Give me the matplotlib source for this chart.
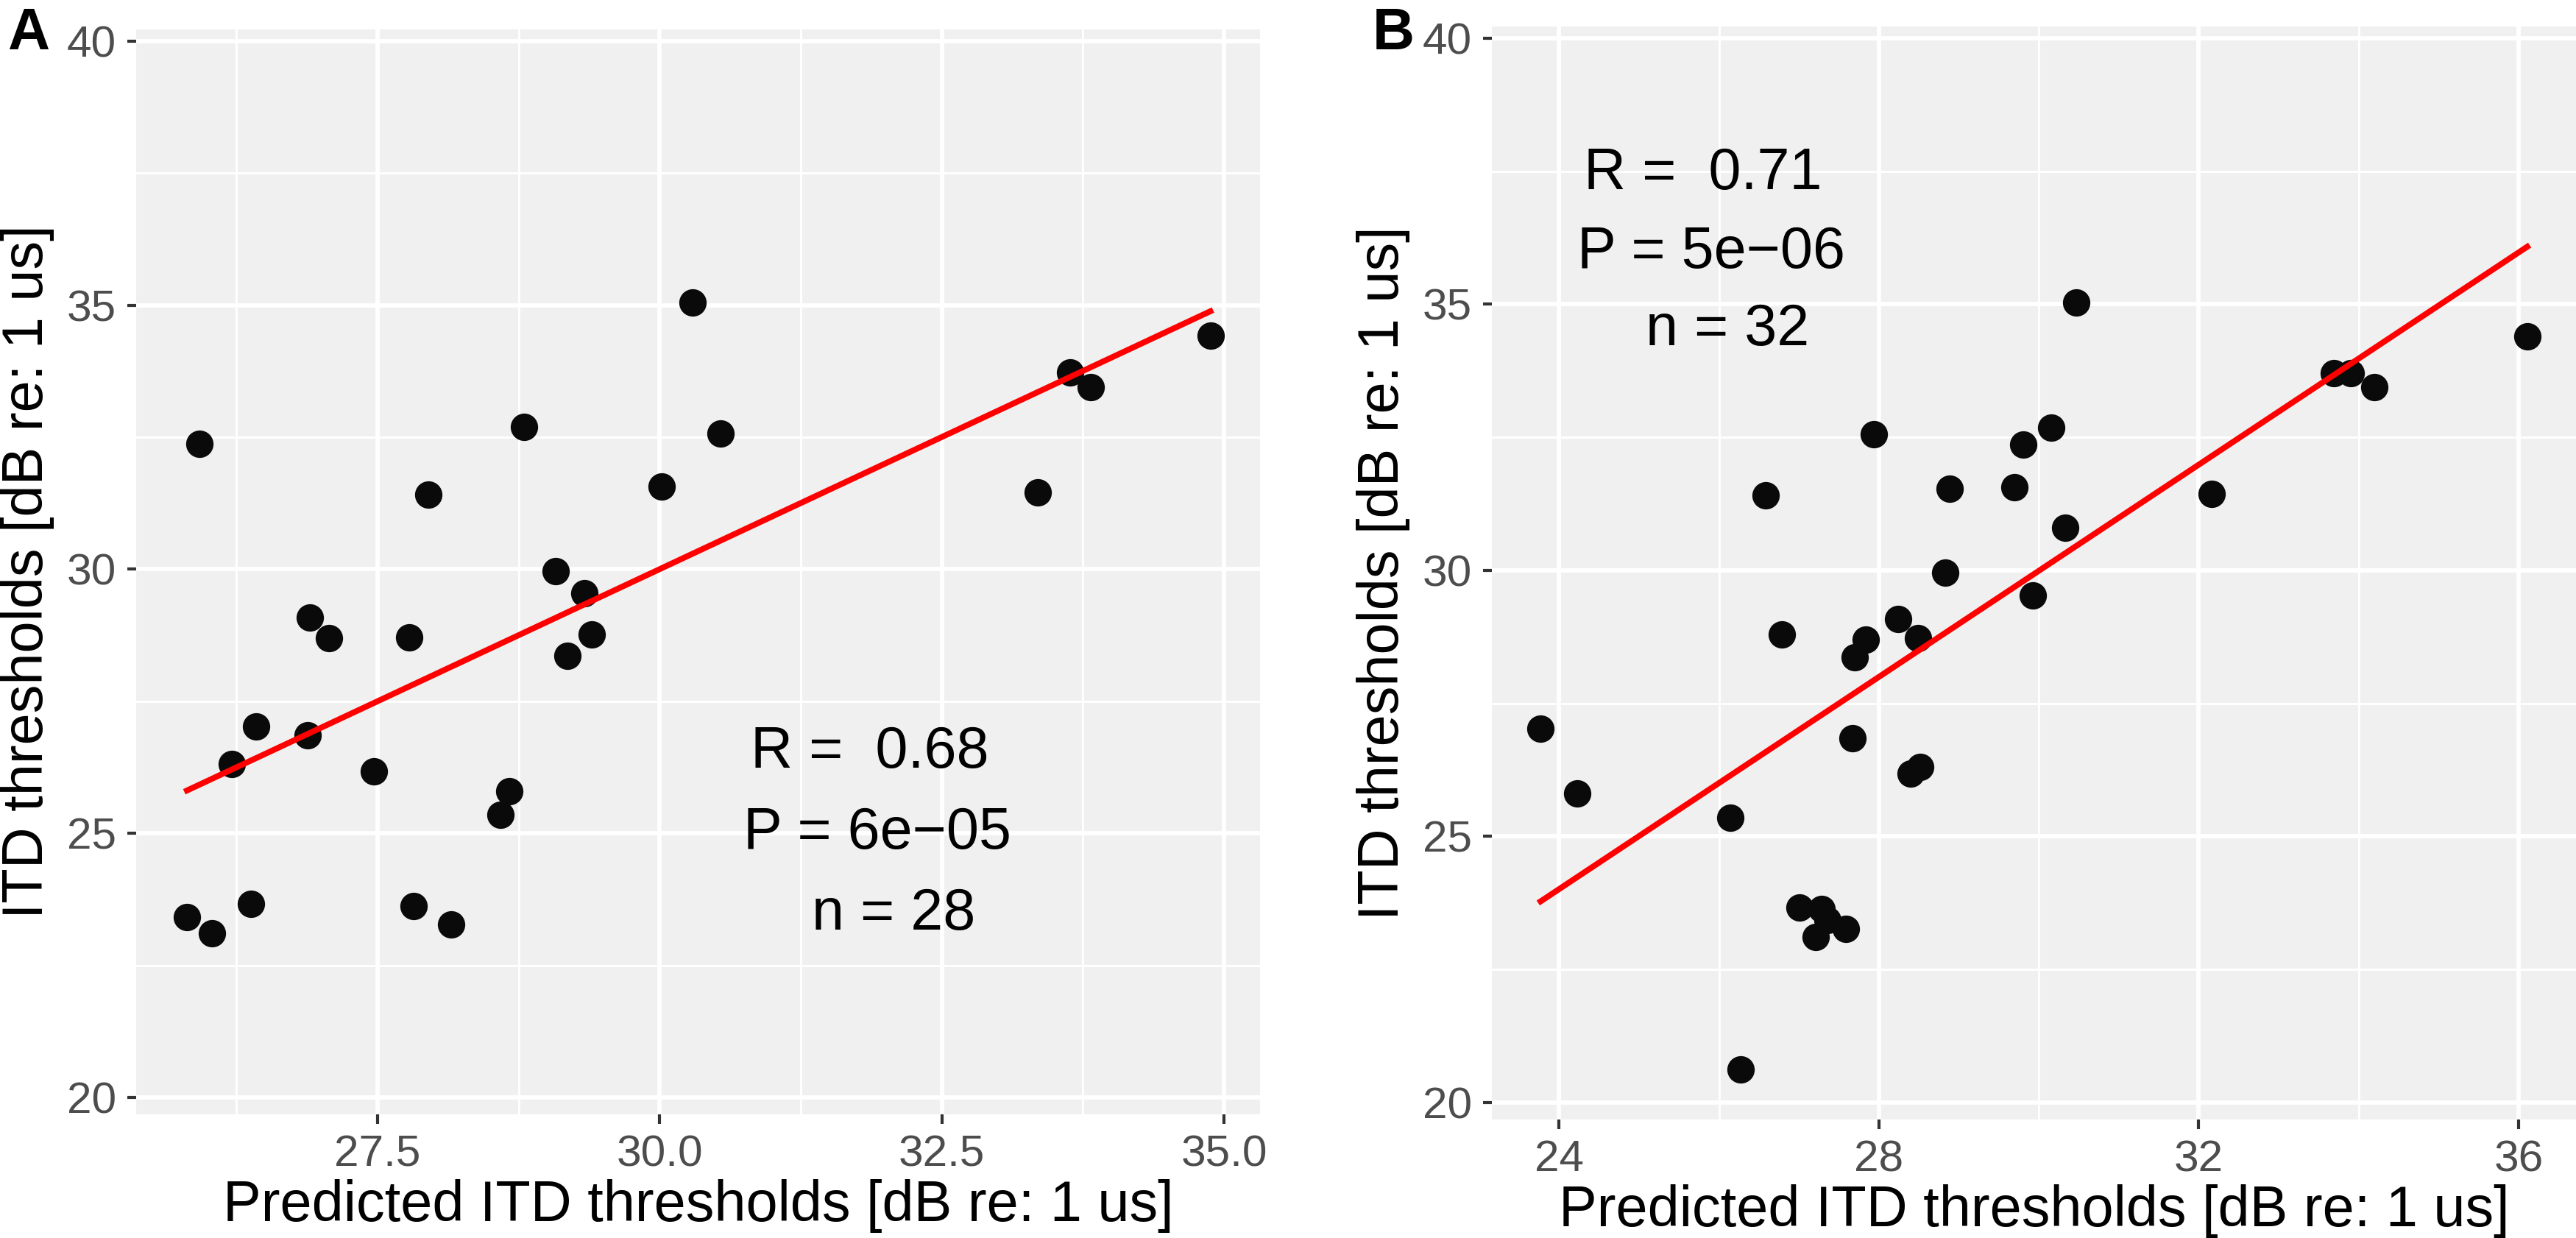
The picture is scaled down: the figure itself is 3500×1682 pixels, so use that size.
import numpy as np
import matplotlib
matplotlib.use("Agg")
import matplotlib.pyplot as plt
from matplotlib.ticker import MultipleLocator

plt.rcParams['font.family'] = ['Liberation Sans', 'DejaVu Sans']

# panel A data
pred_a = [25.81, 26.03, 25.92, 26.21, 26.42, 26.38, 26.90, 27.07, 26.88, 27.47,
          27.78, 27.95, 27.82, 28.15, 28.59, 28.67, 28.80, 29.08, 29.33, 29.18,
          29.40, 30.02, 30.29, 30.54, 33.35, 33.64, 33.82, 34.88]
itd_a = [23.41, 23.11, 32.38, 26.31, 27.03, 23.66, 29.09, 28.70, 26.85, 26.17,
         28.71, 31.41, 23.62, 23.27, 25.35, 25.80, 32.69, 29.97, 29.55, 28.36,
         28.77, 31.57, 35.05, 32.57, 31.45, 33.72, 33.45, 34.42]

# panel B data
pred_b = [23.77, 24.23, 26.14, 26.27, 26.58, 26.79, 27.01, 27.28, 27.36, 27.59,
          27.21, 27.67, 27.70, 27.84, 27.94, 28.24, 28.49, 28.40, 28.52, 28.83,
          28.89, 29.70, 29.81, 29.93, 30.16, 30.33, 30.47, 32.16, 33.69, 33.90,
          34.20, 36.11]
itd_b = [27.02, 25.81, 25.35, 20.62, 31.41, 28.79, 23.67, 23.64, 23.43, 23.26,
         23.11, 26.84, 28.36, 28.70, 32.56, 29.08, 28.73, 26.18, 26.30, 29.96,
         31.53, 31.56, 32.37, 29.53, 32.68, 30.80, 35.04, 31.44, 33.70, 33.70,
         33.44, 34.40]

stats_a = ["R =  0.68", "P = 6e\u221205", "n = 28"]
stats_b = ["R =  0.71", "P = 5e\u221206", "n = 32"]
# text anchor points (data units)
stats_pos_a = [(31.86, 26.53), (31.93, 25.00), (32.07, 23.47)]
stats_pos_b = [(25.80, 37.45), (25.90, 35.96), (26.11, 34.52)]

W, H = 3500, 1682
fig = plt.figure(figsize=(W / 300, H / 300), dpi=300)


def px_axes(left, top, right, bottom):
    return fig.add_axes([left / W, 1 - bottom / H, (right - left) / W, (bottom - top) / H])


def panel(ax, x, y, xmajor, xlim, labels, pos):
    ax.set_facecolor('#EFF0EF')
    for s in ax.spines.values():
        s.set_visible(False)
    ax.xaxis.set_major_locator(MultipleLocator(xmajor))
    ax.xaxis.set_minor_locator(MultipleLocator(xmajor / 2))
    ax.yaxis.set_major_locator(MultipleLocator(5))
    ax.yaxis.set_minor_locator(MultipleLocator(2.5))
    ax.grid(which='major', color='white', linewidth=1.4)
    ax.grid(which='minor', color='white', linewidth=0.7)
    ax.set_axisbelow(True)
    ax.tick_params(which='major', length=3.0, width=1.0, color='#333333',
                   labelsize=14.5, labelcolor='#4D4D4D', pad=3.5)
    ax.tick_params(which='minor', length=0)

    ax.scatter(x, y, s=80, color='#0a0a0a', zorder=3, linewidths=0)
    slope, inter = np.polyfit(x, y, 1)
    xs = np.array([min(x), max(x)])
    ax.plot(xs, inter + slope * xs, color='#FF0000', linewidth=1.9, zorder=4)

    for t, (tx, ty) in zip(labels, pos):
        ax.text(tx, ty, t, ha='center', va='center', fontsize=19, color='black', zorder=5)

    ax.set_xlim(*xlim)
    ax.set_ylim(19.68, 40.22)
    ax.set_xlabel('Predicted ITD thresholds [dB re: 1 us]', fontsize=18.6, labelpad=1.5)
    ax.set_ylabel('ITD thresholds [dB re: 1 us]', fontsize=18.6, labelpad=4)


ax1 = px_axes(185, 40, 1712, 1514)
panel(ax1, pred_a, itd_a, 2.5, (25.36, 35.32), stats_a, stats_pos_a)
ax1.xaxis.set_major_formatter(matplotlib.ticker.FormatStrFormatter('%.1f'))

ax2 = px_axes(2027, 36, 3500, 1521)
panel(ax2, pred_b, itd_b, 4, (23.16, 36.72), stats_b, stats_pos_b)

fig.text(10 / W, 1 - 67 / H, 'A', fontsize=19, fontweight='bold', va='baseline')
fig.text(1865 / W, 1 - 67 / H, 'B', fontsize=19, fontweight='bold', va='baseline')

fig.savefig('out.png', dpi=300)
